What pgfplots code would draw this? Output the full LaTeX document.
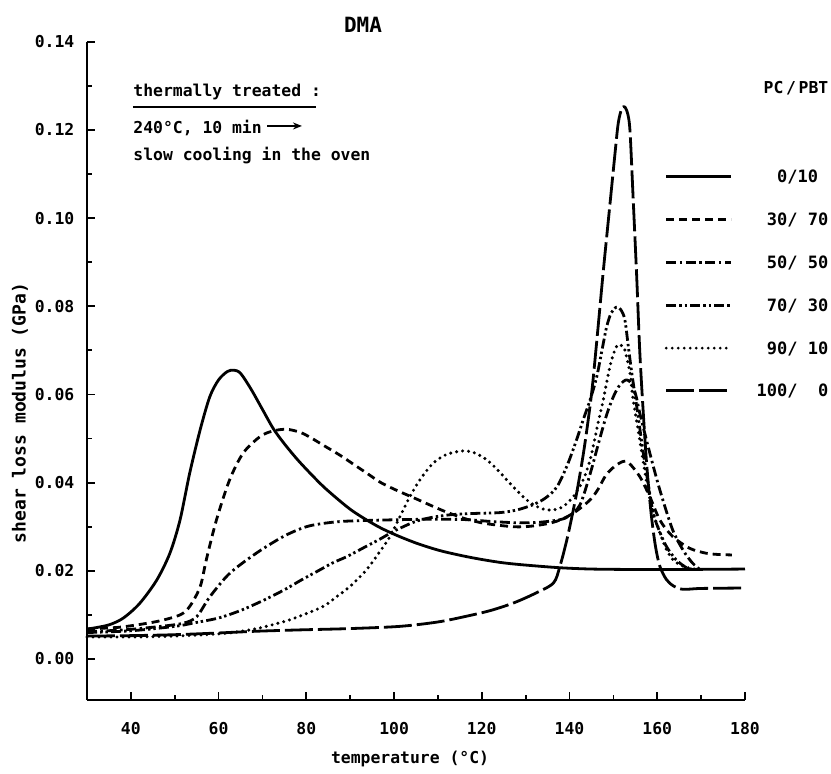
\documentclass[border=0pt]{standalone}
\usepackage{fontspec}
\setmainfont{DejaVu Sans Mono}[UprightFont=* Bold]
\usepackage{pgfplots}
\pgfplotsset{compat=1.18}
\usetikzlibrary{arrows.meta}
\tikzset{
 s0/.style={solid},
 s30/.style={dash pattern=on 4pt off 2.5pt},
 s50/.style={dash pattern=on 5pt off 1.8pt on 1.2pt off 1.8pt},
 s70/.style={dash pattern=on 5pt off 1.6pt on 1.2pt off 1.4pt on 1.2pt off 1.6pt},
 s90/.style={dash pattern=on 0pt off 3pt, line cap=round, line width=1.7pt},
 s100/.style={dash pattern=on 14pt off 2.5pt},
}
\newcommand{\fs}{\fontsize{8.2}{10}\selectfont}
\begin{document}
\begin{tikzpicture}
\begin{axis}[
 width=329pt, height=329.15pt, scale only axis,
 xmin=30, xmax=180, ymin=-0.0093, ymax=0.14,
 axis x line*=bottom, axis y line*=left,
 axis line style={line width=1pt},
 clip=false,
 xtick={40,60,80,100,120,140,160,180},
 minor xtick={50,70,90,110,130,150,170},
 ytick={0,0.02,0.04,0.06,0.08,0.1,0.12,0.14},
 minor ytick={0.01,0.03,0.05,0.07,0.09,0.11,0.13},
 tick align=inside,
 major tick length=4pt, minor tick length=2.5pt,
 every tick/.style={line width=0.9pt, black},
 /pgf/number format/assume math mode=true,
 yticklabel style={/pgf/number format/fixed, /pgf/number format/fixed zerofill, /pgf/number format/precision=2, font=\fs, xshift=-2.8pt},
 xticklabel style={font=\fs, yshift=-7.6pt},
 xlabel={temperature (°C)},
 ylabel={shear loss modulus (GPa)},
 xlabel style={font=\fs, at={(axis description cs:0.491,-0.0896)}, anchor=center},
 ylabel style={font=\fontsize{9}{11}\selectfont, at={(axis description cs:-0.102,0.436)}, anchor=center},
 every axis plot/.append style={line width=1.4pt, black, line join=round, smooth, tension=0.5},
 legend style={draw=none, fill=none, at={(axis description cs:0.878,0.8036)}, anchor=north west, inner sep=0pt, outer sep=0pt, row sep=15.4pt, font=\fontsize{8.5}{10}\selectfont, nodes={inner sep=0pt, text height=6pt, text depth=0pt}},
 legend cell align=left,
 legend image code/.code={\draw[line width=1.5pt, black, #1, smooth=false] (0pt,0pt) -- (32.5pt,0pt);},
]
\addplot[s0] coordinates {(30,0.0068)(32,0.0071)(35.2,0.0078)(38.3,0.0093)(42,0.0126)(45.9,0.0179)(48.9,0.0240)(51.2,0.0315)(53.4,0.0421)(55.8,0.0520)(58,0.0595)(60,0.0633)(62,0.0652)(63.5,0.0655)(65,0.0648)(67.4,0.0612)(70,0.0566)(72.5,0.0522)(75,0.0488)(78,0.0452)(81,0.0420)(84,0.0390)(87.7,0.0358)(90.5,0.0336)(93.8,0.0315)(97,0.0297)(100.7,0.0280)(105,0.0263)(109,0.0250)(112,0.0242)(116.6,0.0232)(121,0.0224)(125,0.0218)(130,0.0213)(137.8,0.0207)(145,0.0204)(155,0.0203)(165,0.0203)(180,0.0204)};
\addlegendentry{\hspace*{12pt}\phantom{00}0/10}
\addplot[s30] coordinates {(30,0.0068)(34,0.0070)(38.3,0.0073)(45.9,0.0085)(51.2,0.0100)(53.4,0.0119)(55.8,0.0164)(57.2,0.0225)(59.5,0.0315)(62.5,0.0406)(65.6,0.0467)(69.4,0.0504)(72.3,0.0517)(75.5,0.0521)(78.6,0.0514)(81,0.0502)(84,0.0484)(87.7,0.0462)(91,0.0440)(94,0.0420)(97,0.0400)(100.7,0.0382)(104.4,0.0366)(108,0.0350)(112,0.0333)(116.6,0.0317)(121,0.0307)(127.2,0.0300)(131,0.0301)(135.5,0.0308)(138.5,0.0318)(141.5,0.0335)(144.7,0.0361)(146.5,0.0385)(148.3,0.0417)(150.3,0.0437)(152.2,0.0448)(153.5,0.0445)(156,0.0414)(158.3,0.0368)(160.6,0.0315)(163.5,0.0278)(167.4,0.0251)(171.1,0.0240)(174,0.0237)(177,0.0236)};
\addlegendentry{\hspace*{12pt}\phantom{0}30/\phantom{0}70}
\addplot[s50] coordinates {(30,0.0062)(38.3,0.0066)(45.9,0.0073)(51.9,0.0081)(55,0.0096)(58,0.0141)(62.5,0.0194)(68.6,0.0240)(74.8,0.0278)(80,0.0300)(85,0.0309)(90,0.0313)(101.3,0.0316)(110,0.0317)(116.6,0.0316)(122,0.0312)(128,0.0309)(133,0.0310)(137.8,0.0316)(140,0.0325)(142.4,0.0350)(144.7,0.0420)(146.9,0.0500)(148.5,0.0555)(150,0.0595)(151.5,0.0622)(153,0.0633)(154.3,0.0622)(155.2,0.0595)(156,0.0558)(158.3,0.0467)(160.6,0.0383)(163.5,0.0293)(166,0.0245)(168,0.0218)(169.6,0.0204)};
\addlegendentry{\hspace*{12pt}\phantom{0}50/\phantom{0}50}
\addplot[s70] coordinates {(30,0.0060)(40,0.0064)(50,0.0074)(55,0.0083)(60,0.0093)(65,0.0110)(70,0.0132)(75,0.0157)(79,0.0180)(82.7,0.0200)(86,0.0218)(89.2,0.0232)(93,0.0252)(96.8,0.0272)(100,0.0290)(104.4,0.0310)(108,0.0320)(112.7,0.0327)(118,0.0330)(124.1,0.0332)(128,0.0338)(131.7,0.0350)(134.5,0.0365)(137.1,0.0390)(139.5,0.0440)(141.6,0.0497)(143.2,0.0545)(144.7,0.0588)(146.2,0.0640)(147.7,0.0716)(148.5,0.0755)(149.5,0.0785)(150.7,0.0798)(151.7,0.0792)(152.6,0.0770)(153.4,0.0709)(154.2,0.0648)(155.5,0.0560)(156.7,0.0475)(157.8,0.0405)(159.1,0.0330)(160.5,0.0290)(162.1,0.0255)(164.3,0.0225)(166.7,0.0207)(168.5,0.0203)};
\addlegendentry{\hspace*{12pt}\phantom{0}70/\phantom{0}30}
\addplot[s90] coordinates {(30,0.0050)(40,0.0050)(50,0.0052)(60,0.0057)(66,0.0064)(70.9,0.0074)(76.3,0.0089)(78.5,0.0097)(83.8,0.0119)(87,0.0142)(90,0.0165)(93.7,0.0202)(96.5,0.0240)(99.1,0.0278)(101.3,0.0322)(103.6,0.0368)(106,0.0408)(108.9,0.0444)(112,0.0464)(115.8,0.0472)(118.5,0.0467)(121.1,0.0452)(123.5,0.0430)(125.7,0.0406)(128,0.0382)(130.2,0.0361)(132.5,0.0346)(134.8,0.0338)(136.8,0.0339)(138.6,0.0346)(141,0.0370)(143.1,0.0406)(144.5,0.0445)(145.4,0.0482)(146.5,0.0535)(147.7,0.0588)(149.2,0.0663)(150.3,0.0700)(151.1,0.0713)(152,0.0710)(152.6,0.0701)(153.8,0.0648)(154.5,0.0588)(156,0.0498)(157.6,0.0400)(159,0.0335)(160.6,0.0286)(162,0.0250)(163.6,0.0225)(165.5,0.0212)(167.4,0.0206)(168.5,0.0204)};
\addlegendentry{\hspace*{12pt}\phantom{0}90/\phantom{0}10}
\addplot[s100] coordinates {(30,0.0052)(40,0.0053)(49.6,0.0055)(60,0.0059)(68.7,0.0063)(78.5,0.0066)(90,0.0069)(101.3,0.0074)(110,0.0084)(116.5,0.0097)(122,0.0110)(127.2,0.0127)(132,0.0148)(136.3,0.0172)(137.8,0.0210)(139.5,0.0275)(141.5,0.0370)(143.3,0.0475)(145,0.0600)(146.2,0.0720)(147.7,0.0880)(149.2,0.1030)(150.3,0.1140)(151.1,0.1215)(151.9,0.1248)(152.6,0.1252)(153.3,0.1235)(153.8,0.1195)(154.5,0.1045)(155.3,0.0870)(156,0.0700)(156.8,0.0560)(157.6,0.0440)(158.6,0.0330)(159.6,0.0255)(160.6,0.0210)(162.1,0.0180)(163.8,0.0165)(165.9,0.0158)(170,0.0160)(180,0.0161)};
\addlegendentry{\hspace*{12pt}100/\phantom{00}0}
\coordinate (O) at (rel axis cs:0,0);
\node[font=\fontsize{10.5}{12}\selectfont] at (axis description cs:0.4195,1.026) {DMA};
\node[font=\fs, anchor=base west, inner sep=0pt] at (axis description cs:0.0699,0.916) {thermally treated :};
\draw[line width=1pt] (axis description cs:0.0699,0.901) -- (axis description cs:0.348,0.901);
\node[font=\fs, anchor=base west, inner sep=0pt] at (axis description cs:0.0699,0.861) {240°C, 10 min};
\draw[line width=1pt, -{Stealth[length=4.5pt,width=3.5pt]}] (axis description cs:0.2736,0.872) -- (axis description cs:0.3267,0.872);
\node[font=\fs, anchor=base west, inner sep=0pt] at (axis description cs:0.0699,0.820) {slow cooling in the oven};
\node[font=\fs] at (axis description cs:1.0775,0.93) {PC\,/\,PBT};
\end{axis}
\pgfresetboundingbox
\path[use as bounding box] ([xshift=-43.5pt,yshift=-36.5pt]O) rectangle ([xshift=372pt,yshift=350pt]O);
\end{tikzpicture}
\end{document}
